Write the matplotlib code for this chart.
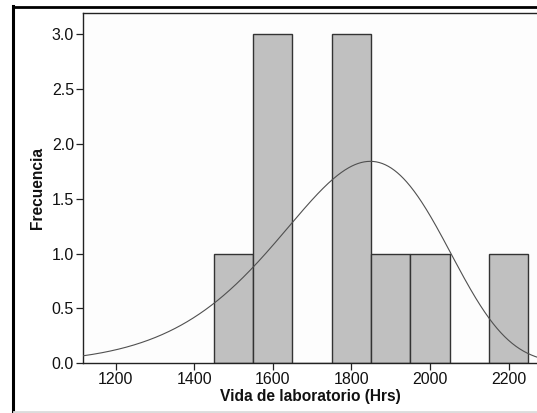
import numpy as np
import matplotlib
matplotlib.use("Agg")
import matplotlib.pyplot as plt
from matplotlib.lines import Line2D
from matplotlib import font_manager

plt.rcParams['font.family'] = ['Liberation Sans', 'DejaVu Sans']
installed = {f.name for f in font_manager.fontManager.ttflist}
tick_family = 'Liberation Sans Narrow' if 'Liberation Sans Narrow' in installed else 'Liberation Sans'

# Histogram of laboratory life (hours), bin width 100
bin_edges = [1450, 1550, 1650, 1750, 1850, 1950, 2050, 2150, 2250]
counts = [1, 3, 0, 3, 1, 1, 0, 1]
n_obs = 10
bin_width = 100

# Fitted Weibull distribution
weibull_shape = 9.3
weibull_scale = 1871

x_ticks = [1200, 1400, 1600, 1800, 2000, 2200]
y_ticks = [0.0, 0.5, 1.0, 1.5, 2.0, 2.5, 3.0]

W, H = 537, 413
fig = plt.figure(figsize=(W / 100, H / 100), dpi=100)
fig.patch.set_facecolor('white')

ax = fig.add_axes([83 / W, (H - 363.3) / H, (538 - 83) / W, (363.3 - 13.3) / H])
ax.set_facecolor('#fdfdfd')

lefts = np.array(bin_edges[:-1])
widths = np.diff(bin_edges)
ax.bar(lefts, counts, width=widths, align='edge', color='#c0c0c0',
       edgecolor='#333333', linewidth=1.0, zorder=2)

# Fitted density scaled to frequency
xmin, xmax = 1117, 2275
xs = np.linspace(xmin, xmax, 600)
u = xs / weibull_scale
pdf = (weibull_shape / weibull_scale) * u ** (weibull_shape - 1) * np.exp(-u ** weibull_shape)
ax.plot(xs, pdf * n_obs * bin_width, color='#505050', linewidth=0.8, zorder=3)

ax.set_xlim(xmin, xmax)
ax.set_ylim(0, 3.188)
ax.set_xticks(x_ticks)
ax.set_yticks(y_ticks)
ax.set_yticklabels([f"{v:.1f}" for v in y_ticks])

for side in ('left', 'bottom', 'top'):
    ax.spines[side].set_color('#222222')
    ax.spines[side].set_linewidth(1.0)
ax.spines['right'].set_visible(False)

ax.tick_params(axis='both', length=5, width=0.9, color='#222222',
               labelsize=11.5, pad=1.5, labelcolor='#111111')
for lab in ax.get_xticklabels() + ax.get_yticklabels():
    lab.set_family([tick_family, 'DejaVu Sans'])

ax.set_xlabel('Vida de laboratorio (Hrs)', fontsize=11.2, fontweight='bold',
              labelpad=1, color='#111111')
ax.set_ylabel('Frecuencia', fontsize=11.2, fontweight='bold',
              labelpad=5, color='#111111')

# Window frame around the graph
fig.add_artist(Line2D([13 / W, 13 / W], [0, 1 - 6 / H], transform=fig.transFigure,
                      color='black', linewidth=2.2, solid_capstyle='projecting'))
fig.add_artist(Line2D([13 / W, 1], [1 - 6.5 / H, 1 - 6.5 / H], transform=fig.transFigure,
                      color='black', linewidth=2.0, solid_capstyle='projecting'))
fig.add_artist(Line2D([14 / W, 1], [1.5 / H, 1.5 / H], transform=fig.transFigure,
                      color='#dcdcdc', linewidth=2.0))

fig.savefig('out.png', dpi=100)
